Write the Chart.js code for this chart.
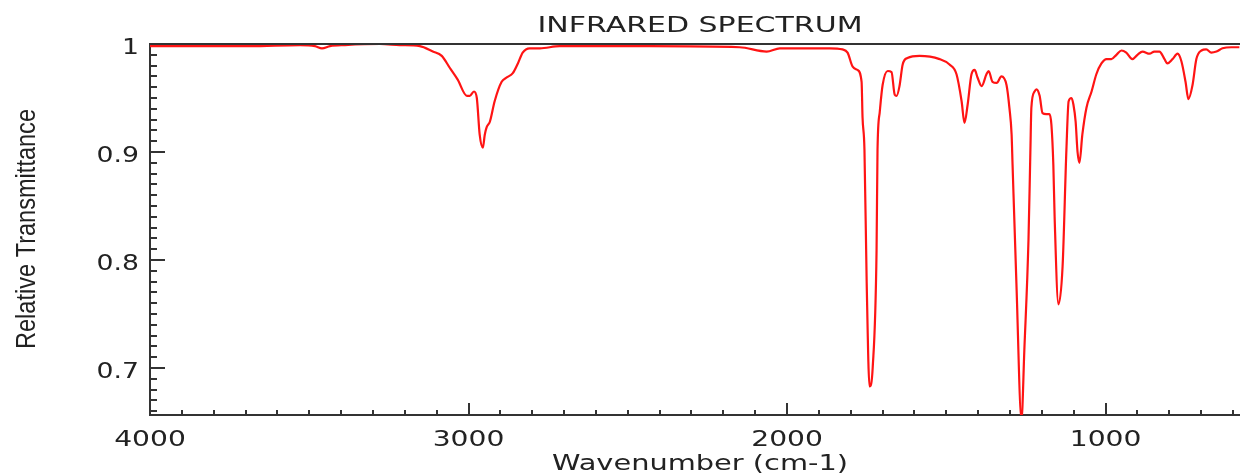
<!DOCTYPE html>
<html>
<head>
<meta charset="utf-8">
<script src="https://cdn.jsdelivr.net/npm/chart.js@4.4.1/dist/chart.umd.min.js"></script>
<style>
  html, body { margin: 0; padding: 0; background: #fff; }
</style>
</head>
<body>
<canvas id="irChart" width="1240" height="474"></canvas>
<script>
// wavenumber (cm-1) and relative transmittance
const wavenumbers = [
  4000, 3686, 3529, 3482, 3460, 3435, 3388, 3278, 3216, 3153,
  3112, 3084, 3059, 3034, 3005, 2996, 2983, 2974, 2965, 2955,
  2949, 2943, 2933, 2918, 2896, 2880, 2861, 2845, 2830, 2808,
  2776, 2714, 2431, 2149, 2064, 2023, 1929, 1866, 1826, 1810,
  1794, 1779, 1766, 1763, 1757, 1750, 1741, 1731, 1719, 1716,
  1709, 1700, 1684, 1672, 1662, 1656, 1647, 1637, 1622, 1584,
  1521, 1490, 1468, 1452, 1443, 1433, 1421, 1411, 1402, 1389,
  1374, 1367, 1355, 1342, 1327, 1311, 1302, 1295, 1292, 1280,
  1264, 1255, 1242, 1236, 1233, 1223, 1217, 1207, 1198, 1186,
  1176, 1170, 1164, 1160, 1148, 1135, 1123, 1116, 1107, 1101,
  1094, 1088, 1082, 1073, 1060, 1044, 1029, 1013, 997, 982,
  966, 950, 935, 916, 900, 884, 862, 847, 831, 815,
  806, 790, 774, 762, 749, 740, 727, 715, 699, 684,
  668, 652, 633, 605, 580
];
const transmittance = [
  0.998, 0.998, 0.999, 0.998, 0.996, 0.998, 0.999, 1.000, 0.999, 0.998,
  0.993, 0.989, 0.978, 0.967, 0.952, 0.952, 0.956, 0.950, 0.916, 0.904,
  0.916, 0.923, 0.928, 0.947, 0.965, 0.969, 0.973, 0.982, 0.992, 0.996,
  0.996, 0.998, 0.998, 0.997, 0.993, 0.996, 0.996, 0.996, 0.995, 0.992,
  0.979, 0.976, 0.965, 0.932, 0.902, 0.779, 0.683, 0.701, 0.809, 0.902,
  0.937, 0.962, 0.975, 0.974, 0.953, 0.952, 0.961, 0.981, 0.987, 0.989,
  0.986, 0.981, 0.972, 0.947, 0.927, 0.944, 0.972, 0.976, 0.969, 0.961,
  0.972, 0.975, 0.965, 0.964, 0.970, 0.962, 0.941, 0.916, 0.888, 0.779,
  0.652, 0.717, 0.819, 0.902, 0.941, 0.956, 0.958, 0.952, 0.936, 0.935,
  0.935, 0.925, 0.888, 0.840, 0.759, 0.794, 0.902, 0.947, 0.950, 0.944,
  0.928, 0.900, 0.890, 0.916, 0.941, 0.956, 0.972, 0.982, 0.986, 0.986,
  0.990, 0.994, 0.992, 0.986, 0.990, 0.993, 0.991, 0.993, 0.993, 0.986,
  0.982, 0.986, 0.991, 0.984, 0.965, 0.949, 0.962, 0.986, 0.994, 0.995,
  0.992, 0.993, 0.996, 0.997, 0.997
];
const xTickLabels = [4000, 3000, 2000, 1000];
const yTickLabels = [1, 0.9, 0.8, 0.7];
const chartTitle = "INFRARED SPECTRUM";
const xTitle = "Wavenumber (cm-1)";
const yTitle = "Relative Transmittance";

const ink = "#222";
const axisColor = "#333";

// the reference text is drawn wide, so squeeze/stretch it horizontally
function wideText(ctx, text, x, y, font, sx, align) {
  ctx.save();
  ctx.font = font;
  ctx.textAlign = align;
  ctx.textBaseline = "alphabetic";
  ctx.translate(x, y);
  ctx.scale(sx, 1);
  ctx.fillText(text, 0, 0);
  ctx.restore();
}

function fitText(ctx, text, x, y, font, width) {
  ctx.font = font;
  const sx = width / ctx.measureText(text).width;
  wideText(ctx, text, x, y, font, sx, "center");
}

const axesPlugin = {
  id: "irAxes",
  afterDraw(chart) {
    const ctx = chart.ctx;
    const area = chart.chartArea;
    const xs = chart.scales.x;
    const ys = chart.scales.y;

    ctx.save();
    ctx.strokeStyle = axisColor;
    ctx.lineWidth = 2;
    ctx.beginPath();
    // frame top
    ctx.moveTo(area.left, area.top);
    ctx.lineTo(area.right, area.top);
    // x ticks, every 100 cm-1, pointing in
    for (let v = 600; v <= 4000; v += 100) {
      const px = Math.round(xs.getPixelForValue(v));
      const len = v % 1000 === 0 ? 12 : 5;
      ctx.moveTo(px, area.bottom);
      ctx.lineTo(px, area.bottom - len);
    }
    // y ticks, every 0.01
    for (let i = 66; i <= 100; i++) {
      const py = Math.round(ys.getPixelForValue(i / 100));
      const len = i % 10 === 0 ? 15 : 7;
      ctx.moveTo(area.left, py);
      ctx.lineTo(area.left + len, py);
    }
    ctx.stroke();

    ctx.fillStyle = ink;
    xTickLabels.forEach(v => {
      wideText(ctx, String(v), xs.getPixelForValue(v), 446, "22px 'DejaVu Sans'", 1.28, "center");
    });
    yTickLabels.forEach(v => {
      wideText(ctx, String(v), 139, ys.getPixelForValue(v) + 10, "21px 'DejaVu Sans'", 1.27, "right");
    });

    fitText(ctx, chartTitle, 700, 32, "21px 'DejaVu Sans'", 325);
    fitText(ctx, xTitle, 700, 470, "22px 'DejaVu Sans'", 296);

    ctx.save();
    ctx.translate(35, 229);
    ctx.rotate(-Math.PI / 2);
    fitText(ctx, yTitle, 0, 0, "27px 'Liberation Sans'", 240);
    ctx.restore();

    ctx.restore();
  }
};

const ctx = document.getElementById("irChart").getContext("2d");
new Chart(ctx, {
  type: "line",
  data: {
    datasets: [{
      data: wavenumbers.map((w, i) => ({ x: w, y: transmittance[i] })),
      borderColor: "rgb(255, 20, 20)",
      borderWidth: 2.2,
      pointRadius: 0,
      cubicInterpolationMode: "monotone",
      fill: false
    }]
  },
  options: {
    responsive: false,
    animation: false,
    devicePixelRatio: 1,
    layout: { padding: { top: 44, left: 0, right: 0, bottom: 0 } },
    plugins: {
      legend: { display: false },
      tooltip: { enabled: false },
      title: { display: false }
    },
    scales: {
      x: {
        type: "linear",
        reverse: true,
        min: 578,
        max: 4000,
        grid: { display: false, drawTicks: false },
        ticks: { display: false },
        border: { display: true, color: axisColor, width: 2 },
        afterFit(s) { s.height = 59; }
      },
      y: {
        type: "linear",
        min: 0.6565,
        max: 1,
        grid: { display: false, drawTicks: false },
        ticks: { display: false },
        border: { display: true, color: axisColor, width: 2 },
        afterFit(s) { s.width = 150; }
      }
    }
  },
  plugins: [axesPlugin]
});
</script>
</body>
</html>
